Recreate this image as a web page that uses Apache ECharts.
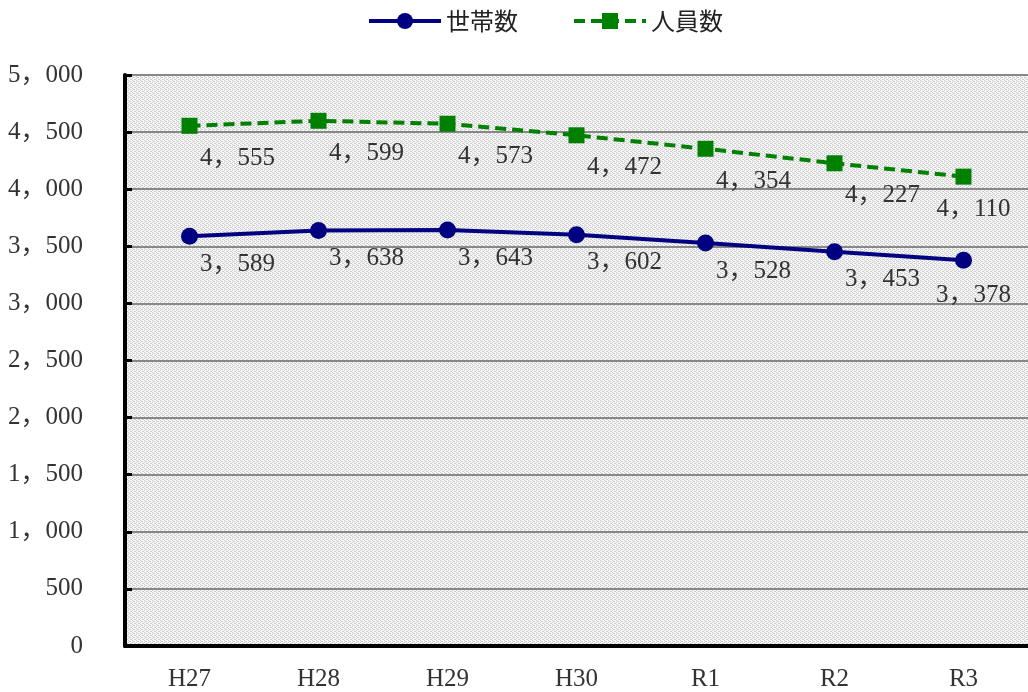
<!DOCTYPE html>
<html><head><meta charset="utf-8">
<script src="https://cdn.jsdelivr.net/npm/echarts@6/dist/echarts.min.js"></script>
<style>html,body{margin:0;padding:0;background:#fff}#c{width:1028px;height:692px}</style>
</head><body><div id="c"></div>
<script>
const categories = ['H27','H28','H29','H30','R1','R2','R3'];
const households = [3589,3638,3643,3602,3528,3453,3378];
const members = [4555,4599,4573,4472,4354,4227,4110];
const yTicks = [0,500,1000,1500,2000,2500,3000,3500,4000,4500,5000];

const fmt = v => { const s = String(v); return s.length > 3 ? s.slice(0, s.length-3) + '，' + s.slice(-3) : s; };
const serif = "'Liberation Serif','Noto Sans CJK JP',serif";

// dotted background pattern
const pc = document.createElement('canvas');
pc.width = 4; pc.height = 4;
const g = pc.getContext('2d');
g.fillStyle = '#f7f7f7'; g.fillRect(0,0,4,4);
g.fillStyle = '#cdcdcd';
[[0,0],[2,1],[0,2],[2,3],[1,1],[3,3]].forEach(([x,y]) => g.fillRect(x,y,1,1));

// last point label nudged left so it stays inside the chart
const withLastLabel = (arr, dy) => arr.map((v, i) => i === arr.length - 1
  ? { value: v, label: { offset: [10, dy] } } : v);

const chart = echarts.init(document.getElementById('c'));
chart.setOption({
  animation: false,
  legend: {
    top: 4, left: 362, itemWidth: 72, itemHeight: 20, itemGap: 54,
    textStyle: { fontSize: 24, color: '#222', fontFamily: "'Noto Sans CJK JP',sans-serif" },
    lineStyle: { width: 4 },
    data: ['世帯数','人員数']
  },
  grid: { left: 125, right: -9, top: 75, bottom: 45, show: true,
    backgroundColor: { image: pc, repeat: 'repeat' }, borderWidth: 0 },
  xAxis: {
    type: 'category', data: categories, boundaryGap: true,
    axisLine: { lineStyle: { color: '#000', width: 4 } },
    axisTick: { inside: true, length: 7, lineStyle: { color: '#000', width: 4 } },
    axisLabel: { margin: 21, fontSize: 25, color: '#333', fontFamily: serif }
  },
  yAxis: {
    type: 'value', min: 0, max: 5000, interval: 500,
    axisLine: { show: true, lineStyle: { color: '#000', width: 4 } },
    axisTick: { show: true, inside: true, length: 7, lineStyle: { color: '#000', width: 3 } },
    splitLine: { lineStyle: { color: '#888', width: 2 } },
    axisLabel: { margin: 42, fontSize: 25, color: '#333', fontFamily: serif,
      formatter: v => yTicks.includes(v) ? fmt(v) : '' }
  },
  series: [
    { name: '世帯数', type: 'line', data: withLastLabel(households, 9), symbol: 'circle', symbolSize: 17,
      lineStyle: { color: '#000080', width: 4 }, itemStyle: { color: '#000080' },
      label: { show: true, position: 'bottom', offset: [48, 2], fontSize: 25, color: '#333', fontFamily: serif,
        formatter: p => fmt(p.value) } },
    { name: '人員数', type: 'line', data: withLastLabel(members, 7), symbol: 'rect', symbolSize: 16,
      lineStyle: { color: '#008000', width: 4, type: [11, 6] }, itemStyle: { color: '#008000' },
      label: { show: true, position: 'bottom', offset: [48, 7], fontSize: 25, color: '#333', fontFamily: serif,
        formatter: p => fmt(p.value) } }
  ]
});
</script></body></html>
